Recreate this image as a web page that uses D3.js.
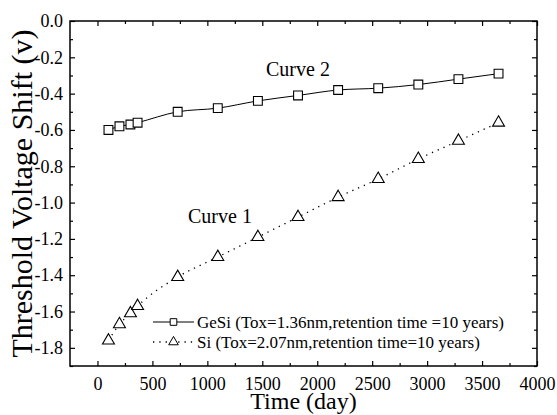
<!DOCTYPE html>
<html>
<head>
<meta charset="utf-8">
<script src="https://cdn.jsdelivr.net/npm/d3@7"></script>
<style>
  body { margin: 0; background: #fff; }
  svg { display: block; }
  svg text { font-family: "Liberation Serif", "Times New Roman", serif; fill: #000; }
</style>
</head>
<body>
<div id="chart"></div>
<script>
// retention time in days
const days = [100, 200, 300, 365, 730, 1095, 1460, 1825, 2190, 2555, 2920, 3285, 3650];
// threshold voltage shift (V)
const geSi = [-0.60, -0.58, -0.57, -0.56, -0.50, -0.48, -0.44, -0.41, -0.38, -0.37, -0.35, -0.32, -0.29];
const si = [-1.76, -1.67, -1.61, -1.57, -1.41, -1.30, -1.19, -1.08, -0.97, -0.87, -0.76, -0.66, -0.56];

const xTicks = [0, 500, 1000, 1500, 2000, 2500, 3000, 3500, 4000];
const yTicks = [0, -0.2, -0.4, -0.6, -0.8, -1.0, -1.2, -1.4, -1.6, -1.8];
const legendLabels = [
    'GeSi (Tox=1.36nm,retention time =10 years)',
    'Si (Tox=2.07nm,retention time=10 years)'
];

const width = 557, height = 415;
const margin = { top: 21, right: 20, bottom: 49, left: 70 };

const svg = d3.select('#chart').append('svg')
    .attr('width', width)
    .attr('height', height);

const x = d3.scaleLinear()
    .domain([-250, 4000])
    .range([margin.left, width - margin.right]);

const y = d3.scaleLinear()
    .domain([-1.9, 0])
    .range([height - margin.bottom, margin.top]);

const x0 = x.range()[0], x1 = x.range()[1];
const y0 = y.range()[0], y1 = y.range()[1];

// minor ticks
const xMinor = d3.range(250, 4000, 500);
const yMinor = d3.range(-0.1, -1.95, -0.2);

const clean = g => g.attr('font-family', null).attr('font-size', null).select('.domain').remove();

// axes, ticks pointing inward
svg.append('g')
    .attr('transform', `translate(0,${y0})`)
    .call(d3.axisBottom(x).tickValues(xTicks).tickSize(-5).tickPadding(11).tickFormat(d3.format('d')))
    .call(clean)
    .call(g => g.selectAll('text').attr('font-size', 18));

svg.append('g')
    .attr('transform', `translate(0,${y0})`)
    .call(d3.axisBottom(x).tickValues(xMinor).tickSize(-3).tickFormat(''))
    .call(clean);

svg.append('g')
    .attr('transform', `translate(0,${y1})`)
    .call(d3.axisTop(x).tickValues(xTicks).tickSize(-5).tickFormat(''))
    .call(clean);

svg.append('g')
    .attr('transform', `translate(0,${y1})`)
    .call(d3.axisTop(x).tickValues(xMinor).tickSize(-3).tickFormat(''))
    .call(clean);

svg.append('g')
    .attr('transform', `translate(${x0},0)`)
    .call(d3.axisLeft(y).tickValues(yTicks).tickSize(-5).tickPadding(7).tickFormat(d => d.toFixed(1)))
    .call(clean)
    .call(g => g.selectAll('text').attr('font-size', 18));

svg.append('g')
    .attr('transform', `translate(${x0},0)`)
    .call(d3.axisLeft(y).tickValues(yMinor).tickSize(-3).tickFormat(''))
    .call(clean);

svg.append('g')
    .attr('transform', `translate(${x1},0)`)
    .call(d3.axisRight(y).tickValues(yTicks).tickSize(-5).tickFormat(''))
    .call(clean);

svg.append('g')
    .attr('transform', `translate(${x1},0)`)
    .call(d3.axisRight(y).tickValues(yMinor).tickSize(-3).tickFormat(''))
    .call(clean);

svg.selectAll('.tick line').attr('stroke', '#000').attr('stroke-width', 1.2);

// frame
svg.append('rect')
    .attr('x', x0).attr('y', y1)
    .attr('width', x1 - x0).attr('height', y0 - y1)
    .attr('fill', 'none').attr('stroke', '#000').attr('stroke-width', 1.5);

// lines
const line = d3.line()
    .x((d, i) => x(days[i]))
    .y(d => y(d))
    .curve(d3.curveMonotoneX);

svg.append('path')
    .datum(geSi)
    .attr('d', line)
    .attr('fill', 'none')
    .attr('stroke', '#000')
    .attr('stroke-width', 1);

svg.append('path')
    .datum(si)
    .attr('d', line)
    .attr('fill', 'none')
    .attr('stroke', '#000')
    .attr('stroke-width', 1.3)
    .attr('stroke-dasharray', '1.3 5');

// markers
const square = d3.symbol().type(d3.symbolSquare).size(78);
const triangle = d3.symbol().type(d3.symbolTriangle).size(62);

svg.append('g').selectAll('path')
    .data(geSi)
    .join('path')
    .attr('d', square)
    .attr('transform', (d, i) => `translate(${x(days[i])},${y(d)})`)
    .attr('fill', '#fff')
    .attr('stroke', '#000')
    .attr('stroke-width', 1.1);

svg.append('g').selectAll('path')
    .data(si)
    .join('path')
    .attr('d', triangle)
    .attr('transform', (d, i) => `translate(${x(days[i])},${y(d)})`)
    .attr('fill', '#fff')
    .attr('stroke', '#000')
    .attr('stroke-width', 1.1);

// curve labels
svg.append('text')
    .attr('x', 266).attr('y', 76)
    .attr('font-size', 20)
    .text('Curve 2');

svg.append('text')
    .attr('x', 188).attr('y', 223)
    .attr('font-size', 20)
    .text('Curve 1');

// legend
const legend = svg.append('g');
const rows = [
    { label: legendLabels[0], sym: d3.symbol().type(d3.symbolSquare).size(44), dash: null },
    { label: legendLabels[1], sym: d3.symbol().type(d3.symbolTriangle).size(40), dash: '1.3 5' }
];
rows.forEach((r, i) => {
    const cy = 322 + i * 20;
    legend.append('line')
        .attr('x1', 153).attr('x2', 194)
        .attr('y1', cy).attr('y2', cy)
        .attr('stroke', '#000')
        .attr('stroke-width', r.dash ? 1.3 : 1)
        .attr('stroke-dasharray', r.dash);
    legend.append('path')
        .attr('d', r.sym)
        .attr('transform', `translate(173.5,${cy})`)
        .attr('fill', '#fff')
        .attr('stroke', '#000')
        .attr('stroke-width', 1);
    legend.append('text')
        .attr('x', 197).attr('y', cy + 6)
        .attr('font-size', 17)
        .text(r.label);
});

// axis titles
svg.append('text')
    .attr('x', (x0 + x1) / 2).attr('y', 409)
    .attr('text-anchor', 'middle')
    .attr('font-size', 24)
    .text('Time (day)');

svg.append('text')
    .attr('transform', `translate(32,${(y0 + y1) / 2}) rotate(-90)`)
    .attr('text-anchor', 'middle')
    .attr('font-size', 30)
    .text('Threshold Voltage Shift (v)');
</script>
</body>
</html>
